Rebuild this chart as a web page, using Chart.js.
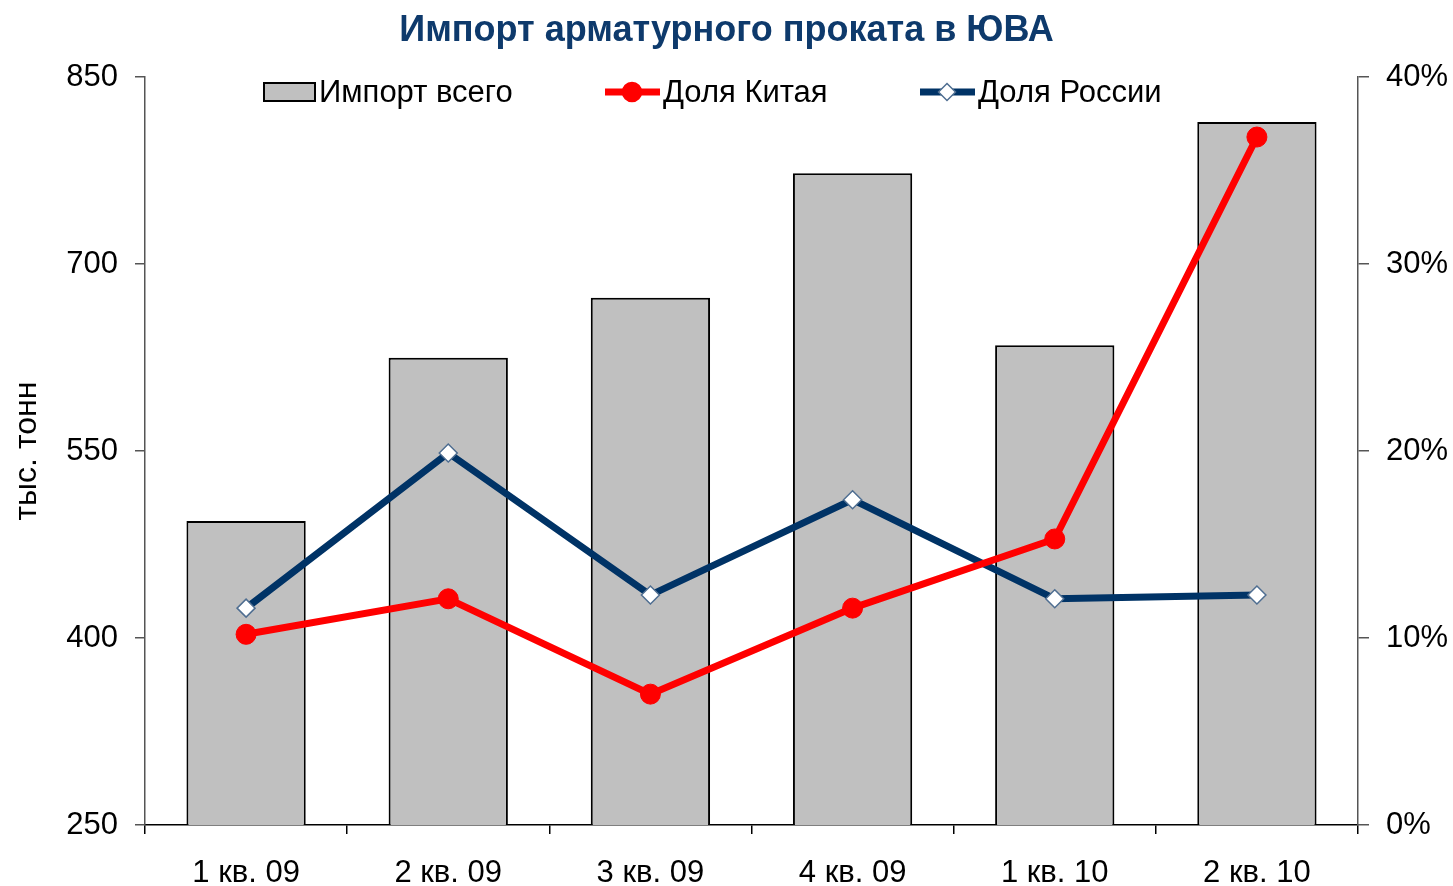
<!DOCTYPE html>
<html>
<head>
<meta charset="utf-8">
<script src="https://cdn.jsdelivr.net/npm/chart.js@4"></script>
<style>
  body { margin: 0; background: #fff; }
  #wrap { width: 1453px; height: 886px; }
</style>
</head>
<body>
<div id="wrap"><canvas id="myChart"></canvas></div>
<script>
const quarters = ['1 кв. 09', '2 кв. 09', '3 кв. 09', '4 кв. 09', '1 кв. 10', '2 кв. 10'];
const importTotal = [494, 625, 673, 773, 635, 814];   // тыс. тонн
const chinaShare = [10.2, 12.1, 7.0, 11.6, 15.3, 36.8];  // %
const russiaShare = [11.6, 19.9, 12.3, 17.4, 12.1, 12.3]; // %

const FONT = 'Liberation Sans, Arial, sans-serif';

// Excel-like legend drawn inside the plot area
const legendPlugin = {
  id: 'xlLegend',
  afterDraw(chart) {
    const ctx = chart.ctx;
    const ds = chart.data.datasets;
    const y = 92;
    ctx.save();
    ctx.font = '31px ' + FONT;
    ctx.textBaseline = 'middle';

    // bar item
    ctx.fillStyle = ds[0].backgroundColor;
    ctx.fillRect(264, 83, 51, 18);
    ctx.strokeStyle = '#000';
    ctx.lineWidth = 2;
    ctx.strokeRect(264, 83, 51, 18);
    ctx.fillStyle = '#000';
    ctx.fillText(ds[0].label, 319, y + 1);

    // line items
    const items = [[ds[1], 605], [ds[2], 920]];
    items.forEach(([d, x0]) => {
      ctx.strokeStyle = d.borderColor;
      ctx.lineWidth = 7;
      ctx.beginPath();
      ctx.moveTo(x0, y);
      ctx.lineTo(x0 + 55, y);
      ctx.stroke();
      const cx = x0 + 27;
      ctx.fillStyle = d.pointBackgroundColor;
      ctx.strokeStyle = d.pointBorderColor;
      ctx.lineWidth = 1.5;
      ctx.beginPath();
      if (d.pointStyle === 'rectRot') {
        const r = 8.5;
        ctx.moveTo(cx, y - r); ctx.lineTo(cx + r, y); ctx.lineTo(cx, y + r); ctx.lineTo(cx - r, y);
        ctx.closePath();
      } else {
        ctx.arc(cx, y, 9.5, 0, Math.PI * 2);
      }
      ctx.fill();
      ctx.stroke();
      ctx.fillStyle = '#000';
      ctx.fillText(d.label, x0 + 58, y + 1);
    });
    ctx.restore();
  }
};

const ctx = document.getElementById('myChart');

new Chart(ctx, {
  data: {
    labels: quarters,
    datasets: [
      {
        type: 'bar',
        label: 'Импорт всего',
        data: importTotal,
        yAxisID: 'y',
        backgroundColor: '#C0C0C0',
        borderColor: '#000',
        borderWidth: 2,
        barPercentage: 0.59,
        categoryPercentage: 1.0,
        order: 3
      },
      {
        type: 'line',
        label: 'Доля Китая',
        data: chinaShare,
        yAxisID: 'y1',
        borderColor: '#FF0000',
        borderWidth: 7,
        pointStyle: 'circle',
        pointRadius: 10,
        pointBackgroundColor: '#FF0000',
        pointBorderColor: '#FF0000',
        pointBorderWidth: 1,
        tension: 0,
        order: 1
      },
      {
        type: 'line',
        label: 'Доля России',
        data: russiaShare,
        yAxisID: 'y1',
        borderColor: '#003366',
        borderWidth: 7,
        pointStyle: 'rectRot',
        pointRadius: 9,
        pointBackgroundColor: '#FFFFFF',
        pointBorderColor: '#4F6E91',
        pointBorderWidth: 1.5,
        tension: 0,
        order: 2
      }
    ]
  },
  options: {
    responsive: true,
    maintainAspectRatio: false,
    animation: false,
    layout: { padding: 0 },
    scales: {
      x: {
        offset: true,
        grid: {
          offset: true,
          drawOnChartArea: false,
          tickLength: 9,
          color: '#000',
          lineWidth: 1.5
        },
        border: { color: '#000', width: 1.5 },
        ticks: {
          color: '#000',
          font: { family: FONT, size: 31 },
          padding: 21
        },
        afterFit(scale) { scale.height = 61; }
      },
      y: {
        position: 'left',
        min: 250,
        max: 850,
        ticks: {
          stepSize: 150,
          color: '#000',
          font: { family: FONT, size: 31 },
          padding: 17
        },
        grid: {
          drawOnChartArea: false,
          tickLength: 10,
          color: '#555',
          lineWidth: 1.5
        },
        border: { color: '#555', width: 1.5 },
        title: {
          display: true,
          text: 'тыс. тонн',
          color: '#000',
          font: { family: FONT, size: 32 },
          padding: { top: 8, bottom: 0 }
        },
        afterFit(scale) { scale.width = 145; }
      },
      y1: {
        position: 'right',
        min: 0,
        max: 40,
        ticks: {
          stepSize: 10,
          color: '#000',
          font: { family: FONT, size: 31 },
          padding: 17,
          callback: v => v + '%'
        },
        grid: {
          drawOnChartArea: false,
          tickLength: 11,
          color: '#555',
          lineWidth: 1.5
        },
        border: { color: '#555', width: 1.5 },
        afterFit(scale) { scale.width = 95; }
      }
    },
    plugins: {
      legend: { display: false },
      tooltip: { enabled: false },
      title: {
        display: true,
        text: 'Импорт арматурного проката в ЮВА',
        color: '#0E3A6C',
        font: { family: FONT, size: 36, weight: 'bold' },
        padding: { top: 9, bottom: 25 }
      }
    }
  },
  plugins: [legendPlugin]
});
</script>
</body>
</html>
